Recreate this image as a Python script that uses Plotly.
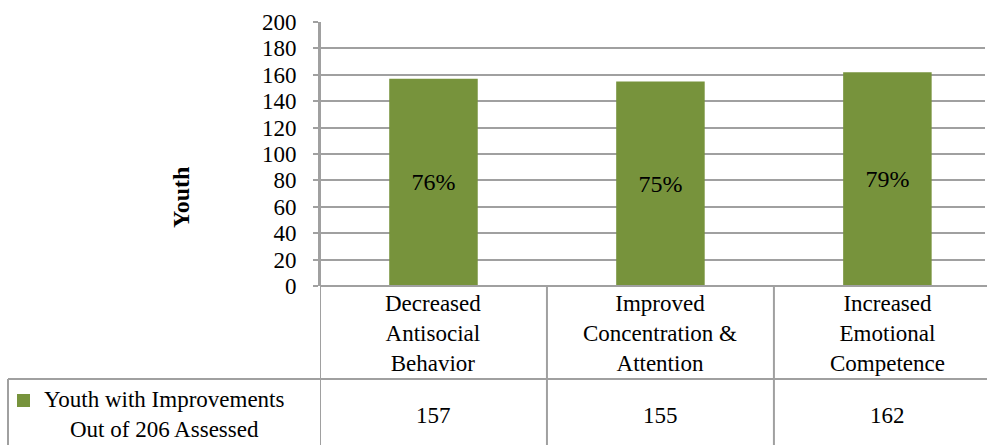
import plotly.graph_objects as go

categories = ["Decreased<br>Antisocial<br>Behavior",
              "Improved<br>Concentration &<br>Attention",
              "Increased<br>Emotional<br>Competence"]
values = [157, 155, 162]
pct_labels = ["76%", "75%", "79%"]
series_name = "Youth with Improvements<br>Out of 206 Assessed"
y_ticks = [0, 20, 40, 60, 80, 100, 120, 140, 160, 180, 200]

FONT = "Liberation Serif, Times New Roman, serif"
GREEN = "#77933C"
GRID = "#a0a0a0"

W, H = 987, 445
L, R, T, B = 320, 2, 22, 159
PW, PH = W - L - R, H - T - B

def py(p):  # pixel y -> paper y
    return (H - B - p) / PH

def px(p):  # pixel x -> paper x
    return (p - L) / PW

x_idx = list(range(len(categories)))

fig = go.Figure()
fig.add_trace(go.Bar(
    x=x_idx, y=values, width=0.39,
    marker=dict(color=GREEN, line=dict(width=0)),
    text=pct_labels, textposition="inside", insidetextanchor="middle",
    textangle=0, textfont=dict(family=FONT, size=24, color="black"),
    showlegend=False, hoverinfo="skip",
))

shapes = []
line_style = dict(color=GRID, width=2)
for b in [0.5, 1.5]:
    shapes.append(dict(type="line", xref="x", yref="paper", x0=b, x1=b,
                       y0=0, y1=py(H + 5), line=line_style))
shapes.append(dict(type="line", xref="x", yref="paper", x0=-0.5, x1=-0.5,
                   y0=1, y1=py(H + 5), line=line_style))
shapes.append(dict(type="line", xref="paper", yref="paper", x0=px(8), x1=px(W + 5),
                   y0=py(379), y1=py(379), line=line_style))
shapes.append(dict(type="line", xref="paper", yref="paper", x0=px(8), x1=px(8),
                   y0=py(379), y1=py(H + 5), line=line_style))
shapes.append(dict(type="line", xref="paper", yref="paper", x0=0, x1=px(W + 5),
                   y0=0, y1=0, line=line_style))
shapes.append(dict(type="rect", xref="paper", yref="paper", x0=px(17), x1=px(30),
                   y0=py(407), y1=py(394), fillcolor=GREEN, line=dict(width=0)))

annotations = []
for i, c in enumerate(categories):
    annotations.append(dict(x=i, xref="x", y=py(333), yref="paper", text=c,
                            showarrow=False, xanchor="center", yanchor="middle",
                            align="center",
                            font=dict(family=FONT, size=23, color="black")))
    annotations.append(dict(x=i, xref="x", y=py(415), yref="paper", text=str(values[i]),
                            showarrow=False, xanchor="center", yanchor="middle",
                            font=dict(family=FONT, size=23, color="black")))
annotations.append(dict(x=px(164), xref="paper", y=py(414), yref="paper", text=series_name,
                        showarrow=False, xanchor="center", yanchor="middle", align="center",
                        font=dict(family=FONT, size=23, color="black")))
annotations.append(dict(x=px(181), xref="paper", y=py(198), yref="paper", text="<b>Youth</b>",
                        textangle=-90, showarrow=False, xanchor="center", yanchor="middle",
                        font=dict(family=FONT, size=24, color="black")))

fig.update_layout(
    width=W, height=H,
    margin=dict(l=L, r=R, t=T, b=B, pad=0),
    paper_bgcolor="white", plot_bgcolor="white",
    shapes=shapes, annotations=annotations,
    xaxis=dict(range=[-0.5, 2.43], showticklabels=False, showgrid=False,
               zeroline=False, showline=False, ticks="", fixedrange=True),
    yaxis=dict(range=[0, 200], tickvals=y_ticks, showgrid=True, gridcolor=GRID,
               gridwidth=2, zeroline=False, showline=True, linecolor=GRID,
               linewidth=2, ticks="outside", ticklen=5, tickcolor=GRID, tickwidth=2,
               ticklabelstandoff=12, fixedrange=True,
               tickfont=dict(family=FONT, size=23, color="black")),
    font=dict(family=FONT, color="black"),
)

fig.write_html("out.html", config={"displayModeBar": False, "staticPlot": True},
               post_script="document.body.style.margin='0';document.body.style.padding='0';document.body.style.overflow='hidden';")
